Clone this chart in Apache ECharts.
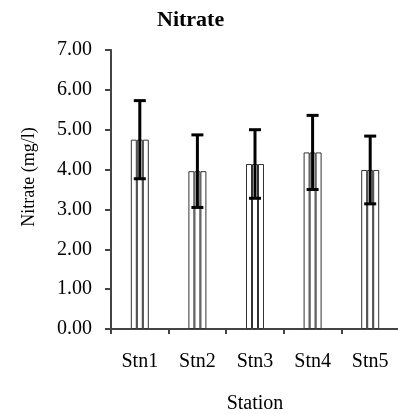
<!DOCTYPE html>
<html>
<head>
<meta charset="utf-8">
<style>
  html, body { margin: 0; padding: 0; background: #fff; }
  #chart { width: 398px; height: 414px; }
</style>
<script src="https://cdn.jsdelivr.net/npm/echarts@6/dist/echarts.min.js"></script>
</head>
<body>
<div id="chart"></div>
<script>
// values
var stations = ['Stn1', 'Stn2', 'Stn3', 'Stn4', 'Stn5']
var means = [4.75, 3.96, 4.14, 4.43, 3.99]
var sds = [0.98, 0.91, 0.86, 0.93, 0.85]
var yTicks = [0, 1, 2, 3, 4, 5, 6, 7]

var serif = 'Liberation Serif'
var myChart = echarts.init(document.getElementById('chart'))

// one bar is drawn as three thin outlined strips -> vertical stripe look
function strip () {
  return {
    type: 'bar',
    barWidth: 6,
    barGap: '0%',
    itemStyle: { color: '#fff', borderColor: '#333', borderWidth: 1 },
    data: means,
    z: 2
  }
}

var option = {
  animation: false,
  title: {
    text: 'Nitrate',
    left: 152,
    top: 4,
    textStyle: { fontFamily: serif, fontWeight: 'bold', fontSize: 22, color: '#000' }
  },
  grid: { left: 111, right: -1, top: 50, bottom: 85, outerBoundsMode: 'none' },
  xAxis: {
    type: 'category',
    data: stations,
    name: 'Station',
    nameLocation: 'middle',
    nameGap: 65,
    nameTextStyle: { fontFamily: serif, fontSize: 20, color: '#000' },
    axisLine: { lineStyle: { color: '#444', width: 2 } },
    axisTick: { show: true, length: 5, lineStyle: { color: '#444', width: 2 } },
    axisLabel: { fontFamily: serif, fontSize: 20, color: '#000', margin: 23 }
  },
  yAxis: {
    type: 'value',
    min: yTicks[0],
    max: yTicks[yTicks.length - 1],
    interval: 1,
    name: 'Nitrate (mg/l)',
    nameLocation: 'middle',
    nameGap: 73,
    nameTextStyle: { fontFamily: serif, fontSize: 18, color: '#000', padding: [0, 0, 0, 25] },
    axisLine: { show: true, lineStyle: { color: '#444', width: 2 } },
    axisTick: { show: true, length: 6, lineStyle: { color: '#444', width: 2 } },
    splitLine: { show: false },
    axisLabel: {
      fontFamily: serif,
      fontSize: 20,
      color: '#000',
      margin: 19,
      formatter: function (v) { return v.toFixed(2) }
    }
  },
  series: [
    strip(),
    strip(),
    strip(),
    {
      type: 'custom',
      z: 5,
      data: means.map(function (m, i) { return [i, m, sds[i]] }),
      encode: { x: 0, y: 1 },
      renderItem: function (params, api) {
        var i = api.value(0)
        var m = api.value(1)
        var s = api.value(2)
        var hi = api.coord([i, m + s])
        var lo = api.coord([i, m - s])
        var st = { stroke: '#000', lineWidth: 3 }
        return {
          type: 'group',
          children: [
            { type: 'line', shape: { x1: hi[0], y1: hi[1], x2: lo[0], y2: lo[1] }, style: st },
            { type: 'line', shape: { x1: hi[0] - 6, y1: hi[1], x2: hi[0] + 6, y2: hi[1] }, style: st },
            { type: 'line', shape: { x1: lo[0] - 6, y1: lo[1], x2: lo[0] + 6, y2: lo[1] }, style: st }
          ]
        }
      }
    }
  ]
}

myChart.setOption(option)
</script>
</body>
</html>
